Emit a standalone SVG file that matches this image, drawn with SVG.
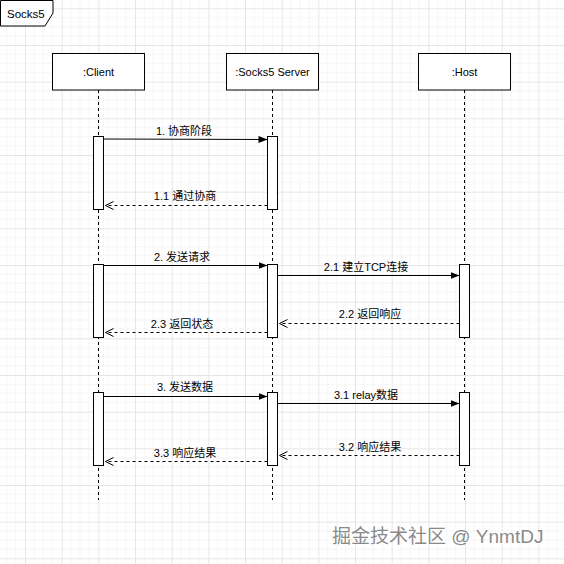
<svg xmlns="http://www.w3.org/2000/svg" width="564" height="564" viewBox="0 0 564 564">
<style>
text{font-family:"Liberation Sans",Arial,"Noto Sans CJK SC",sans-serif;fill:#000}
.lbl{font-size:11px;text-anchor:middle}
.head{fill:#fff;stroke:#000;stroke-width:1}
.life{stroke:#000;stroke-width:1;stroke-dasharray:3,3}
.act{fill:#fff;stroke:#000;stroke-width:1}
.msg{stroke:#000;stroke-width:1;fill:none}
.ret{stroke:#000;stroke-width:1;fill:none;stroke-dasharray:3,3}
</style>
<defs>
<pattern id="grid" patternUnits="userSpaceOnUse" x="25" y="8.333" width="36.667" height="36.667">
<path d="M9.167 0V36.667M18.333 0V36.667M27.5 0V36.667M0 9.167H36.667M0 18.333H36.667M0 27.5H36.667" stroke="#f5f5f5" stroke-width="1" fill="none"/>
<path d="M0.5 0V36.667M0 0.5H36.667" stroke="#e6e6e6" stroke-width="1" fill="none"/>
</pattern>
<marker id="fill" markerWidth="10" markerHeight="8" refX="9" refY="4" orient="auto" markerUnits="userSpaceOnUse">
<path d="M0,0.5 L9,4 L0,7.5 Z" fill="#000"/>
</marker>
<marker id="open" markerWidth="11" markerHeight="10" refX="9" refY="5" orient="auto" markerUnits="userSpaceOnUse">
<path d="M1,1 L9,5 L1,9" fill="none" stroke="#000" stroke-width="1"/>
</marker>
</defs>
<rect width="564" height="564" fill="#fff"/>
<rect width="564" height="564" fill="url(#grid)"/>

<g id="frame">
<polygon points="0.5,0.5 53,0.5 53,13 45,26 0.5,26" fill="#fff" stroke="#000" stroke-width="1"/>
<text x="7" y="17.5" font-size="11.5">Socks5</text>
</g>

<g id="client">
<rect class="head" x="52.5" y="53.5" width="92" height="36.5"/>
<text class="lbl" x="98.5" y="76">:Client</text>
<line class="life" x1="98.5" y1="90" x2="98.5" y2="500"/>
</g>
<g id="server">
<rect class="head" x="226.5" y="53.5" width="92" height="36.5"/>
<text class="lbl" x="272.5" y="76">:Socks5 Server</text>
<line class="life" x1="272.5" y1="90" x2="272.5" y2="500"/>
</g>
<g id="host">
<rect class="head" x="418.5" y="53.5" width="92" height="36.5"/>
<text class="lbl" x="464.5" y="76">:Host</text>
<line class="life" x1="464.5" y1="90" x2="464.5" y2="500"/>
</g>

<g id="activations">
<rect class="act" x="93.5" y="136.5" width="10" height="73"/>
<rect class="act" x="267.5" y="136.5" width="10" height="73"/>
<rect class="act" x="93.5" y="264.5" width="10" height="73"/>
<rect class="act" x="267.5" y="264.5" width="10" height="73"/>
<rect class="act" x="459.5" y="264.5" width="10" height="73"/>
<rect class="act" x="93.5" y="392.5" width="10" height="73"/>
<rect class="act" x="267.5" y="392.5" width="10" height="73"/>
<rect class="act" x="459.5" y="392.5" width="10" height="73"/>
</g>

<g id="connectors">
<line class="msg" x1="103.5" y1="139" x2="267.5" y2="139.5" marker-end="url(#fill)"/>
<text class="lbl" x="184" y="135">1. 协商阶段</text>
<line class="ret" x1="267.5" y1="205.5" x2="105.5" y2="205.5" marker-end="url(#open)"/>
<text class="lbl" x="185" y="200">1.1 通过协商</text>

<line class="msg" x1="103.5" y1="265.5" x2="267.5" y2="265.5" marker-end="url(#fill)"/>
<text class="lbl" x="182" y="261">2. 发送请求</text>
<line class="msg" x1="277.5" y1="275.5" x2="459.5" y2="275.5" marker-end="url(#fill)"/>
<text class="lbl" x="366" y="271">2.1 建立TCP连接</text>
<line class="ret" x1="459.5" y1="323.5" x2="279.5" y2="323.5" marker-end="url(#open)"/>
<text class="lbl" x="370" y="318">2.2 返回响应</text>
<line class="ret" x1="267.5" y1="332.5" x2="105.5" y2="332.5" marker-end="url(#open)"/>
<text class="lbl" x="182" y="328">2.3 返回状态</text>

<line class="msg" x1="103.5" y1="396.5" x2="267.5" y2="396.5" marker-end="url(#fill)"/>
<text class="lbl" x="185" y="391">3. 发送数据</text>
<line class="msg" x1="277.5" y1="403.5" x2="459.5" y2="403.5" marker-end="url(#fill)"/>
<text class="lbl" x="366" y="399">3.1 relay数据</text>
<line class="ret" x1="459.5" y1="455.5" x2="279.5" y2="455.5" marker-end="url(#open)"/>
<text class="lbl" x="370" y="451">3.2 响应结果</text>
<line class="ret" x1="267.5" y1="461.5" x2="105.5" y2="461.5" marker-end="url(#open)"/>
<text class="lbl" x="185" y="457">3.3 响应结果</text>
</g>

<g id="watermark">
<text x="332" y="543" font-size="19" fill="#fff" stroke="#fff" stroke-width="2">掘金技术社区 @ YnmtDJ</text>
<text x="332" y="543" font-size="19" style="fill:#8a8a8a">掘金技术社区 @ YnmtDJ</text>
</g>
</svg>
